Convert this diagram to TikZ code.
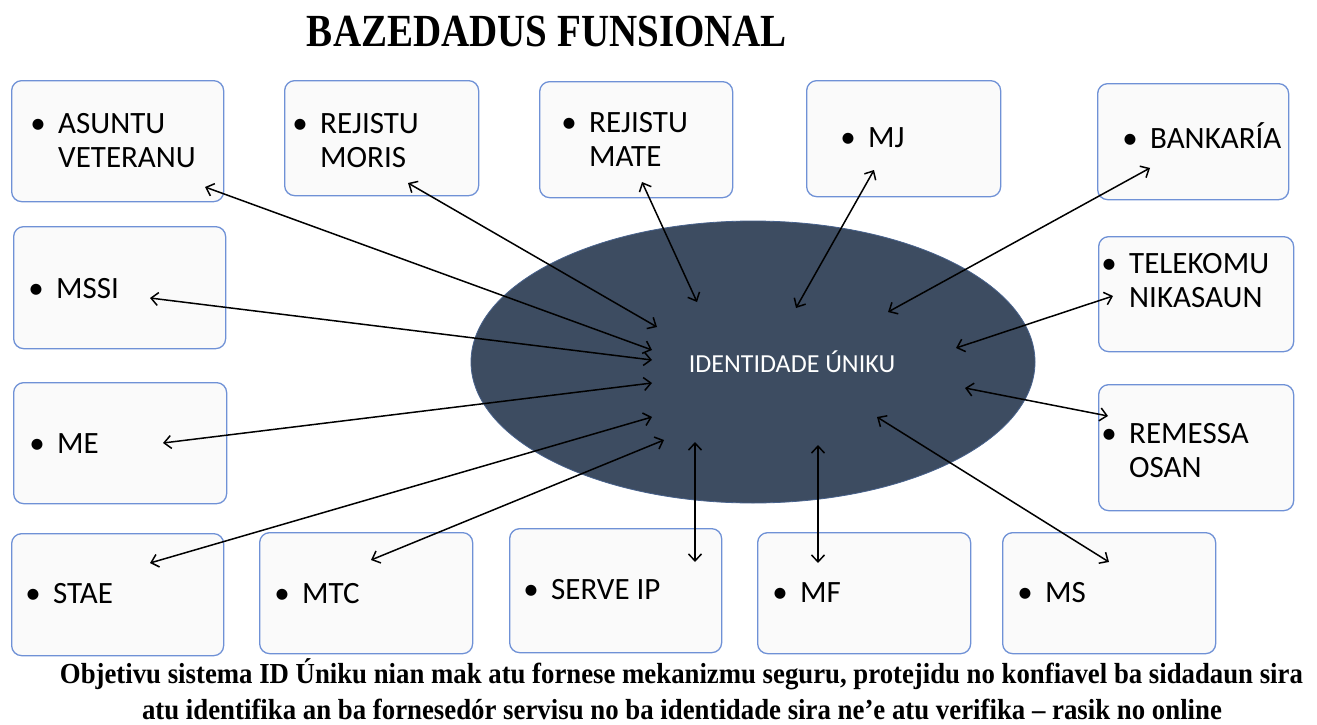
\documentclass[tikz,border=0pt]{standalone}
\usepackage{fontspec}
\usepackage{graphicx}
\setmainfont{Liberation Serif}
\newfontfamily\boxfont{Carlito}
\usetikzlibrary{arrows.meta,shapes.geometric}
\definecolor{boxline}{RGB}{111,145,214}
\definecolor{boxfill}{RGB}{250,250,250}
\definecolor{hubfill}{RGB}{61,76,97}
\definecolor{hubline}{RGB}{72,98,140}
\newcommand{\blt}{\makebox[0pt]{\textbullet}\hspace{20pt}}
\newcommand{\itm}[2]{\begin{tabular}[t]{@{}l@{}}\blt #1\\\hspace{20pt}#2\end{tabular}}
\tikzset{
  box/.style={draw=boxline, fill=boxfill, line width=1.3pt, rounded corners=10pt, anchor=north west},
  item/.style={anchor=base west, font=\boxfont\fontsize{31}{34.5}\selectfont},
  hub/.style={ellipse, fill=hubfill, draw=hubline, line width=0.8pt, minimum width=564, minimum height=282},
  link/.style={<->, >={Straight Barb[length=7pt,width=13pt]}, line width=1.5pt, black}
}
\begin{document}
\begin{tikzpicture}[x=1pt,y=-1pt]
	\tikzstyle{every node}+=[inner sep=0pt]
	\fill [white] (0,0) rectangle (1317,725);
	\useasboundingbox (0,0) rectangle (1317,725);
	\node [anchor=base, font=\bfseries\fontsize{46}{50}\selectfont] (title) at (547,47) {\resizebox{480pt}{\height}{BAZEDADUS FUNSIONAL}};
	% boxes
	\node [box, minimum width=212, minimum height=121] (vet) at (11,80) {};
	\node [box, minimum width=194, minimum height=115] (moris) at (284,80) {};
	\node [box, minimum width=193, minimum height=116] (mate) at (539,81) {};
	\node [box, minimum width=194, minimum height=116] (mj) at (806,80) {};
	\node [box, minimum width=191, minimum height=116] (bank) at (1097,83) {};
	\node [box, minimum width=212, minimum height=122] (mssi) at (13,226) {};
	\node [box, minimum width=195, minimum height=115] (tele) at (1098,236) {};
	\node [box, minimum width=213, minimum height=121] (me) at (13,382) {};
	\node [box, minimum width=195, minimum height=126] (rem) at (1098,384) {};
	\node [box, minimum width=212, minimum height=122] (stae) at (11,533) {};
	\node [box, minimum width=213, minimum height=121] (mtc) at (259,532) {};
	\node [box, minimum width=212, minimum height=124] (serve) at (509,528) {};
	\node [box, minimum width=213, minimum height=121] (mf) at (757,532) {};
	\node [box, minimum width=213, minimum height=121] (ms) at (1002,532) {};
	\node [item] (vetT) at (38,133) {\itm{ASUNTU}{VETERANU}};
	\node [item] (morisT) at (300,133) {\itm{REJISTU}{MORIS}};
	\node [item] (mateT) at (569,132) {\itm{REJISTU}{MATE}};
	\node [item] (mjT) at (848,147) {\blt MJ};
	\node [item] (bankT) at (1130,148) {\blt BANKARÍA};
	\node [item] (mssiT) at (36,298) {\blt MSSI};
	\node [item] (teleT) at (1109,273) {\itm{TELEKOMU}{NIKASAUN}};
	\node [item] (meT) at (37,453) {\blt ME};
	\node [item] (remT) at (1109,443) {\itm{REMESSA}{OSAN}};
	\node [item] (staeT) at (33,603) {\blt STAE};
	\node [item] (mtcT) at (282,603) {\blt MTC};
	\node [item] (serveT) at (531,599) {\blt SERVE IP};
	\node [item] (mfT) at (780,602) {\blt MF};
	\node [item] (msT) at (1025,602) {\blt MS};
	% centre
	\node [hub] (uid) at (753,362) {};
	\node [anchor=base, text=white, font=\boxfont\fontsize{26}{30}\selectfont] (uidT) at (792,372) {IDENTIDADE ÚNIKU};
	% arrow ends
	\coordinate (vetA) at (205,187);   \coordinate (vetB) at (652,350);
	\coordinate (morisA) at (408,183); \coordinate (morisB) at (657,327);
	\coordinate (mateA) at (642,182);  \coordinate (mateB) at (697,302);
	\coordinate (mjA) at (874,170);    \coordinate (mjB) at (796,308);
	\coordinate (bankA) at (1150,168); \coordinate (bankB) at (888,312);
	\coordinate (mssiA) at (150,298);  \coordinate (mssiB) at (652,360);
	\coordinate (teleA) at (1113,296); \coordinate (teleB) at (956,348);
	\coordinate (meA) at (163,443);    \coordinate (meB) at (652,383);
	\coordinate (remA) at (1108,416);  \coordinate (remB) at (965,388);
	\coordinate (staeA) at (150,563);  \coordinate (staeB) at (652,417);
	\coordinate (mtcA) at (371,560);   \coordinate (mtcB) at (664,440);
	\coordinate (serveA) at (695,562); \coordinate (serveB) at (695,442);
	\coordinate (mfA) at (818,563);    \coordinate (mfB) at (818,445);
	\coordinate (msA) at (1109,562);   \coordinate (msB) at (877,417);
	\draw [link] (vetA) -- (vetB);
	\draw [link] (morisA) -- (morisB);
	\draw [link] (mateA) -- (mateB);
	\draw [link] (mjA) -- (mjB);
	\draw [link] (bankA) -- (bankB);
	\draw [link] (mssiA) -- (mssiB);
	\draw [link] (teleA) -- (teleB);
	\draw [link] (meA) -- (meB);
	\draw [link] (remA) -- (remB);
	\draw [link] (staeA) -- (staeB);
	\draw [link] (mtcA) -- (mtcB);
	\draw [link] (serveA) -- (serveB);
	\draw [link] (mfA) -- (mfB);
	\draw [link] (msA) -- (msB);
	% caption
	\node [anchor=base, font=\bfseries\fontsize{29}{32}\selectfont] (goalA) at (681.5,683) {\resizebox{1243pt}{\height}{Objetivu sistema ID Úniku nian mak atu fornese mekanizmu seguru, protejidu no konfiavel ba sidadaun sira}};
	\node [anchor=base, font=\bfseries\fontsize{29}{32}\selectfont] (goalB) at (682,719) {\resizebox{1080pt}{\height}{atu identifika an ba fornesedór servisu no ba identidade sira ne’e atu verifika – rasik no online}};
\end{tikzpicture}
\end{document}
